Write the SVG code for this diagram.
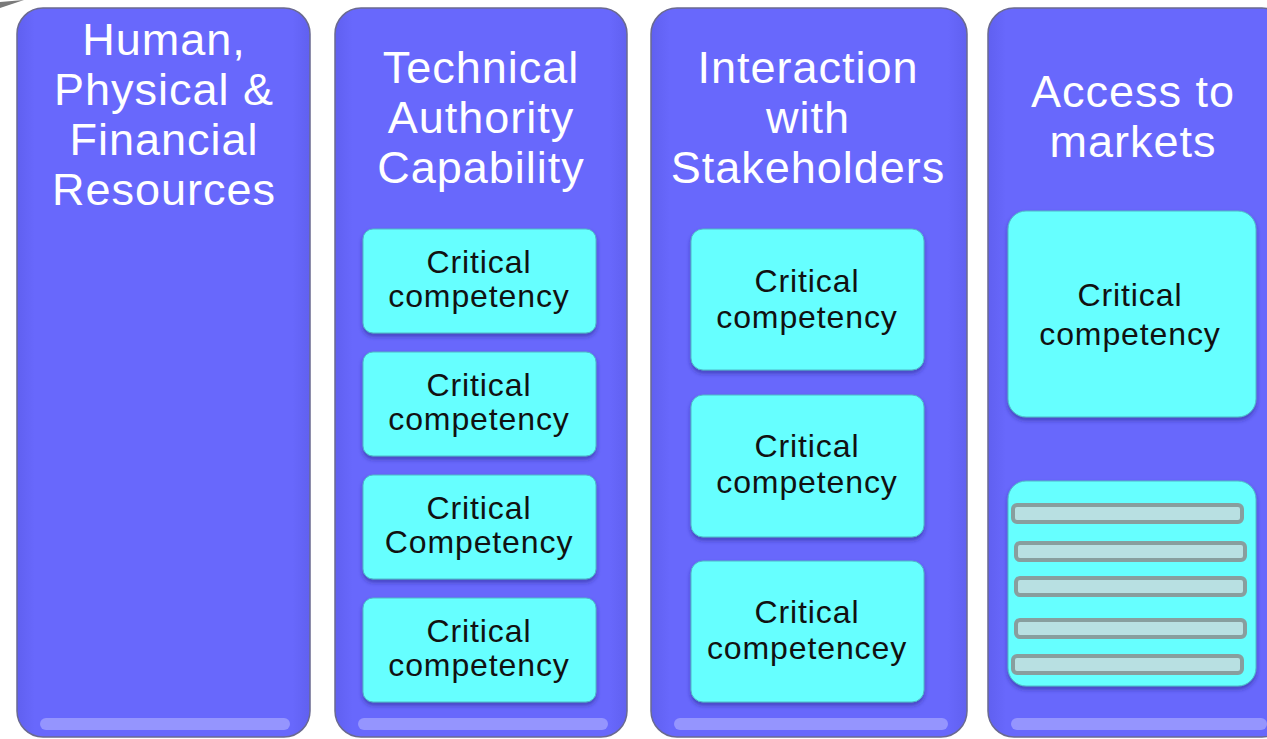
<svg xmlns="http://www.w3.org/2000/svg" width="1267" height="739" viewBox="0 0 1267 739">
<style>
.col{fill:url(#colg);stroke:#6a6a90;stroke-width:1.5}
.hi{fill:#a4a4ff;opacity:0.75}
.box{fill:#66ffff;stroke:#4fb8c8;stroke-width:1;filter:url(#sh)}
.h{font-family:"Liberation Sans",Arial,sans-serif;font-size:45px;fill:#ffffff;text-anchor:middle;letter-spacing:1px}
.t{font-family:"Liberation Sans",Arial,sans-serif;font-size:32px;fill:#111111;text-anchor:middle;letter-spacing:0.9px}
.bar{fill:#b8e0e2;stroke:#889e9e;stroke-width:4}
</style>
<defs>
<linearGradient id="colg" x1="0" y1="0" x2="1" y2="0">
<stop offset="0" stop-color="#6060f0"/>
<stop offset="0.06" stop-color="#6868fc"/>
<stop offset="0.94" stop-color="#6868fc"/>
<stop offset="1" stop-color="#6060f0"/>
</linearGradient>
<filter id="sh" x="-10%" y="-10%" width="120%" height="125%">
<feDropShadow dx="0" dy="3" stdDeviation="2" flood-color="#202080" flood-opacity="0.5"/>
</filter>
</defs>
<rect width="1267" height="739" fill="#ffffff"/>
<path d="M0 2 L24 0 L0 8 Z" fill="#7a7a7a"/>
<g id="col1">
<rect class="col" x="17" y="8" width="293" height="729" rx="26"/>
<rect class="hi" x="40" y="718" width="250" height="12" rx="6"/>
<text class="h" x="164" y="55">Human,</text>
<text class="h" x="164" y="105">Physical &amp;</text>
<text class="h" x="164" y="155">Financial</text>
<text class="h" x="164" y="205">Resources</text>
</g>
<g id="col2">
<rect class="col" x="335" y="8" width="292" height="729" rx="26"/>
<rect class="hi" x="358" y="718" width="250" height="12" rx="6"/>
<text class="h" x="481" y="83">Technical</text>
<text class="h" x="481" y="133">Authority</text>
<text class="h" x="481" y="183">Capability</text>
</g>
<g id="col3">
<rect class="col" x="651" y="8" width="316" height="729" rx="26"/>
<rect class="hi" x="674" y="718" width="274" height="12" rx="6"/>
<text class="h" x="808" y="83">Interaction</text>
<text class="h" x="808" y="133">with</text>
<text class="h" x="808" y="183">Stakeholders</text>
</g>
<g id="col4">
<rect class="col" x="988" y="8" width="300" height="729" rx="26"/>
<rect class="hi" x="1011" y="718" width="256" height="12" rx="6"/>
<text class="h" x="1133" y="107">Access to</text>
<text class="h" x="1133" y="157">markets</text>
</g>
<g id="c2a"><rect class="box" x="363" y="229" width="233" height="104" rx="10"/><text class="t" x="479" y="273">Critical</text><text class="t" x="479" y="307">competency</text></g>
<g id="c2b"><rect class="box" x="363" y="352" width="233" height="104" rx="10"/><text class="t" x="479" y="396">Critical</text><text class="t" x="479" y="430">competency</text></g>
<g id="c2c"><rect class="box" x="363" y="475" width="233" height="104" rx="10"/><text class="t" x="479" y="519">Critical</text><text class="t" x="479" y="553">Competency</text></g>
<g id="c2d"><rect class="box" x="363" y="598" width="233" height="104" rx="10"/><text class="t" x="479" y="642">Critical</text><text class="t" x="479" y="676">competency</text></g>
<g id="c3a"><rect class="box" x="691" y="229" width="233" height="141" rx="12"/><text class="t" x="807" y="292">Critical</text><text class="t" x="807" y="328">competency</text></g>
<g id="c3b"><rect class="box" x="691" y="395" width="233" height="142" rx="12"/><text class="t" x="807" y="457">Critical</text><text class="t" x="807" y="493">competency</text></g>
<g id="c3c"><rect class="box" x="691" y="561" width="233" height="141" rx="12"/><text class="t" x="807" y="623">Critical</text><text class="t" x="807" y="659">competencey</text></g>
<g id="c4a"><rect class="box" x="1008" y="211" width="248" height="206" rx="18"/><text class="t" x="1130" y="306">Critical</text><text class="t" x="1130" y="345">competency</text></g>
<g id="c4b">
<rect class="box" x="1008" y="481" width="248" height="205" rx="18"/>
<rect class="bar" x="1013" y="505" width="229" height="17" rx="4"/>
<rect class="bar" x="1016" y="543" width="229" height="17" rx="4"/>
<rect class="bar" x="1016" y="578" width="229" height="17" rx="4"/>
<rect class="bar" x="1016" y="620" width="229" height="17" rx="4"/>
<rect class="bar" x="1013" y="656" width="229" height="17" rx="4"/>
</g>
<g id="connectors"/>
</svg>
